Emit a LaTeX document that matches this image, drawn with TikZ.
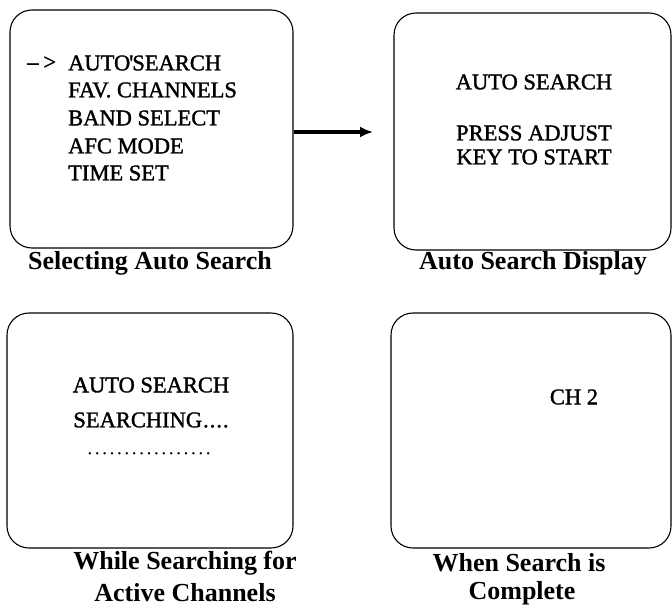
\documentclass[tikz,border=0pt]{standalone}
\usepackage{fontspec}
\setmainfont{Liberation Serif}
\newfontface\scrfont{Liberation Serif}[FakeBold=1.4]
\usetikzlibrary{arrows.meta}
\begin{document}
\begin{tikzpicture}[x=1pt,y=-1pt,
  screen/.style={draw,line width=1.1pt,rounded corners=22pt,inner sep=0pt},
  scrtext/.style={font=\fontsize{22.5}{25}\scrfont,inner sep=0pt},
  caption/.style={font=\fontsize{26}{29}\selectfont\bfseries,inner sep=0pt}]
\useasboundingbox (0,0) rectangle (672,613);
% screens
\node[screen,minimum width=283pt,minimum height=238pt] (s1) at (151.5,129) {};
\node[screen,minimum width=277pt,minimum height=237pt] (s2) at (532.5,131.5) {};
\node[screen,minimum width=286pt,minimum height=235pt] (s3) at (150,430.5) {};
\node[screen,minimum width=280pt,minimum height=235pt] (s4) at (531,430.5) {};
% screen 1 texts
\node[scrtext,anchor=west] (p1) at (27,63) {–\kern5pt>};
\node[scrtext,anchor=west] (m1) at (68,63) {AUTO\kern-1pt'\kern-1pt SEARCH};
\node[scrtext,anchor=west] (m2) at (68,90) {FAV. CHANNELS};
\node[scrtext,anchor=west] (m3) at (68,118) {BAND SELECT};
\node[scrtext,anchor=west] (m4) at (68,146) {AFC MODE};
\node[scrtext,anchor=west] (m5) at (68,173) {TIME SET};
% screen 2 texts
\node[scrtext] (a1) at (534,82) {AUTO SEARCH};
\node[scrtext] (a2) at (534,133) {PRESS ADJUST};
\node[scrtext] (a3) at (534,157) {KEY TO START};
% screen 3 texts
\node[scrtext] (b1) at (151,385) {AUTO SEARCH};
\node[scrtext] (b2) at (151,420) {SEARCHING\kern1pt.\kern1pt.\kern1pt.\kern1pt.};
\node[scrtext,font=\fontsize{16}{18}\scrfont,anchor=base] (b3) at (149,454) {.\kern3.4pt.\kern3.4pt.\kern3.4pt.\kern3.4pt.\kern3.4pt.\kern3.4pt.\kern3.4pt.\kern3.4pt.\kern3.4pt.\kern3.4pt.\kern3.4pt.\kern3.4pt.\kern3.4pt.\kern3.4pt.\kern3.4pt.\kern3.4pt.};
% screen 4 text
\node[scrtext] (c1) at (574,397) {CH 2};
% captions
\node[caption] (t1) at (150,263) {Selecting Auto Search};
\node[caption] (t2) at (533,263) {Auto Search Display};
\node[caption] (t3) at (185,563) {While Searching for};
\node[caption] (t3b) at (185,593) {Active Channels};
\node[caption] (t4) at (519,563) {When Search is};
\node[caption] (t4b) at (522,593) {Complete};
% arrow
\coordinate (as) at (s1.east |- 0,132);
\coordinate (ae) at (373,132);
\draw[line width=3.5pt,-{Latex[length=13pt,width=11pt]}] (as) -- (ae);
\end{tikzpicture}
\end{document}
